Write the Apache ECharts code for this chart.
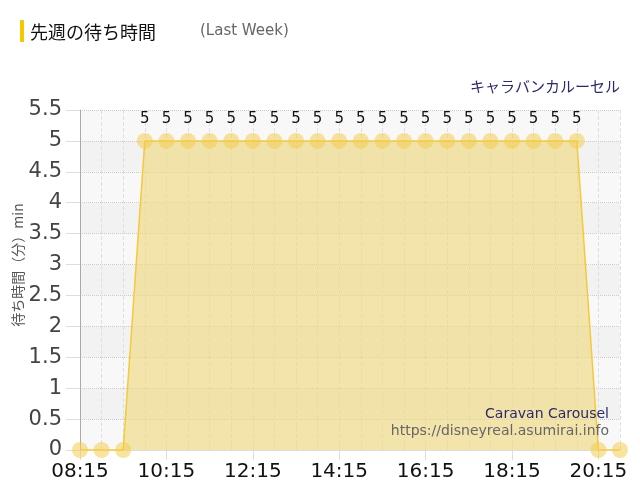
<!DOCTYPE html>
<html>
<head>
<meta charset="utf-8">
<script src="https://cdn.jsdelivr.net/npm/echarts@6/dist/echarts.min.js"></script>
<style>html,body{margin:0;padding:0;background:#fff;}#c{width:640px;height:500px;}</style>
</head>
<body>
<div id="c"></div>
<script>
const times = ['08:15','08:45','09:15','09:45','10:15','10:45','11:15','11:45','12:15','12:45','13:15','13:45','14:15','14:45','15:15','15:45','16:15','16:45','17:15','17:45','18:15','18:45','19:15','19:45','20:15','20:45'];
const waits = [0,0,0,5,5,5,5,5,5,5,5,5,5,5,5,5,5,5,5,5,5,5,5,5,0,0];
const yTicks = [0,0.5,1,1.5,2,2.5,3,3.5,4,4.5,5,5.5];
const titleText = '先週の待ち時間';
const subText = '(Last Week)';
const attractionJa = 'キャラバンカルーセル';
const attractionEn = 'Caravan Carousel';
const siteUrl = 'https://disneyreal.asumirai.info';
const yName = '待ち時間（分）min';

const chart = echarts.init(document.getElementById('c'));
chart.setOption({
  backgroundColor: '#fff',
  animation: false,
  grid: {left: 80, right: 20, top: 110, bottom: 50},
  xAxis: {
    type: 'category',
    data: times,
    boundaryGap: false,
    axisLine: {show: true, lineStyle: {color: '#ddd'}},
    axisTick: {show: true, interval: 3, length: 10, lineStyle: {color: '#ddd'}},
    axisLabel: {interval: 3, color: '#111', fontSize: 20, fontFamily: 'DejaVu Sans', margin: 12},
    splitLine: {show: true, interval: 0, lineStyle: {color: '#e0e0e0', type: 'dashed'}}
  },
  yAxis: {
    type: 'value',
    min: yTicks[0],
    max: yTicks[yTicks.length - 1],
    interval: 0.5,
    axisLine: {show: true, lineStyle: {color: '#aaa'}},
    axisTick: {show: true, length: 14, lineStyle: {color: '#ddd'}},
    axisLabel: {color: '#444', fontSize: 21, fontFamily: 'DejaVu Sans', margin: 18},
    splitLine: {show: true, lineStyle: {color: '#ccc', type: 'dotted'}},
    splitArea: {show: true, areaStyle: {color: ['#f8f8f8', '#f2f2f2']}}
  },
  series: [{
    type: 'line',
    data: waits,
    symbol: 'circle',
    symbolSize: 16,
    showAllSymbol: true,
    itemStyle: {color: 'rgba(242,205,80,0.55)'},
    lineStyle: {color: '#f5c93a', width: 1.5},
    areaStyle: {color: 'rgba(241,216,125,0.88)'},
    label: {
      show: true,
      position: 'top',
      distance: 6,
      color: '#111',
      fontSize: 15,
      fontFamily: 'DejaVu Sans',
      formatter: p => p.value > 0 ? String(p.value) : ''
    }
  }],
  graphic: [
    {type: 'rect', shape: {x: 20, y: 20, width: 4, height: 22}, style: {fill: '#f5c800'}},
    {type: 'text', style: {x: 30, y: 32, text: titleText, font: '18px "Noto Sans CJK JP"', fill: '#111', textVerticalAlign: 'middle'}},
    {type: 'text', style: {x: 200, y: 31, text: subText, font: '15px "DejaVu Sans"', fill: '#666', textVerticalAlign: 'middle'}},
    {type: 'text', style: {x: 620, y: 86, text: attractionJa, font: '15px "Noto Sans CJK JP"', fill: '#2a2a6a', textAlign: 'right', textVerticalAlign: 'middle'}},
    {type: 'text', style: {x: 609, y: 414, text: attractionEn, font: '14px "DejaVu Sans"', fill: '#2a2a6a', textAlign: 'right', textVerticalAlign: 'middle'}, z: 100},
    {type: 'text', style: {x: 609, y: 431, text: siteUrl, font: '14px "DejaVu Sans"', fill: '#666', textAlign: 'right', textVerticalAlign: 'middle'}, z: 100},
    {type: 'text', rotation: Math.PI / 2, x: 18, y: 265, style: {x: 0, y: 0, text: yName, font: '14px "Noto Sans CJK JP"', fill: '#555', textAlign: 'center', textVerticalAlign: 'middle'}}
  ]
});
</script>
</body>
</html>
